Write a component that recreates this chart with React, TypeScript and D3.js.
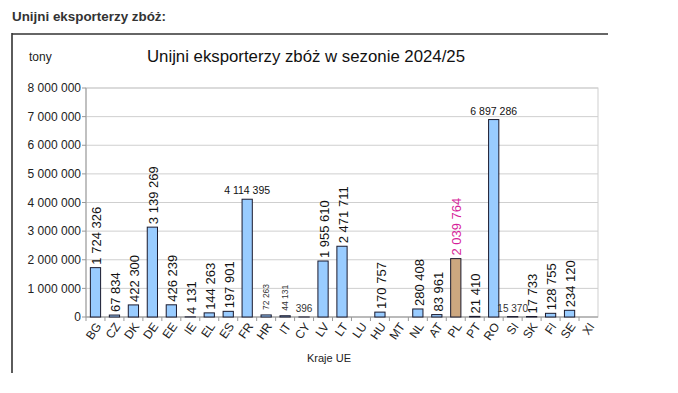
import React from "react";
import * as d3 from "d3";

const countries = ["BG","CZ","DK","DE","EE","IE","EL","ES","FR","HR","IT","CY","LV","LT","LU","HU","MT","NL","AT","PL","PT","RO","SI","SK","FI","SE","XI"];
const exportsT = [1724326,67834,422300,3139269,426239,4131,144263,197901,4114395,72263,44131,396,1955610,2471711,0,170757,0,280408,83961,2039764,21410,6897286,15370,17733,128755,234120,0];
// label style: v = vertical, h = horizontal, vs = vertical small, hs = horizontal small, n = none
const labelStyles = ["v","v","v","v","v","v","v","v","h","vs","vs","hs","v","v","n","v","n","v","v","v","v","h","hs","v","v","v","n"];
const yTicks = [0,1000000,2000000,3000000,4000000,5000000,6000000,7000000,8000000];

const fmt = (v: number) => String(v).replace(/\B(?=(\d{3})+(?!\d))/g, " ");

export default function App() {
  const W = 678, H = 393;
  const left = 86, right = 598, top = 88, bottom = 317;
  const x = d3.scaleBand<string>().domain(countries).range([left, right]).paddingInner(0.46).paddingOuter(0.23);
  const xStep = d3.scaleBand<string>().domain(countries).range([left, right]);
  const y = d3.scaleLinear().domain([0, 8000000]).range([bottom, top]);
  const font = "Liberation Sans, Arial, sans-serif";

  return (
    <svg width={W} height={H} style={{ position: "absolute", left: 0, top: 0, background: "#fff" }} fontFamily={font}>
      <rect x={0} y={0} width={W} height={H} fill="#fff" />
      <text x={12} y={21} fontSize={13.4} fontWeight="bold" fill="#333">Unijni eksporterzy zbóż:</text>
      <line x1={12} y1={34} x2={608} y2={34} stroke="#333" strokeWidth={1.6} />
      <line x1={12} y1={33} x2={12} y2={373} stroke="#333" strokeWidth={1.6} />
      <text x={29} y={61} fontSize={12} fill="#222">tony</text>
      <text x={306} y={62} fontSize={16.8} textAnchor="middle" fill="#111">Unijni eksporterzy zbóż w sezonie 2024/25</text>

      {/* plot frame & grid */}
      <rect x={left} y={top} width={right - left} height={bottom - top} fill="none" stroke="#cfcfcf" />
      {yTicks.map((t) => (
        <g key={t}>
          <line x1={left} x2={right} y1={y(t)} y2={y(t)} stroke="#cfcfcf" />
          <line x1={left - 4} x2={left} y1={y(t)} y2={y(t)} stroke="#999" />
          <text x={81} y={y(t)} dy="0.35em" fontSize={12} textAnchor="end" fill="#222">{fmt(t)}</text>
        </g>
      ))}
      <line x1={left} x2={left} y1={top} y2={bottom} stroke="#999" />
      <line x1={left} x2={right} y1={bottom} y2={bottom} stroke="#999" />
      {countries.map((c) => (
        <line key={"t" + c} x1={xStep(c)!} x2={xStep(c)!} y1={bottom} y2={bottom + 4} stroke="#999" />
      ))}

      {/* bars */}
      {countries.map((c, i) => {
        const v = exportsT[i];
        const isPL = c === "PL";
        return (
          <rect key={"b" + c} x={x(c)!} y={y(v)} width={x.bandwidth()} height={bottom - y(v)}
            fill={isPL ? "#CCA77F" : "#99CCFF"} stroke="#1a1a2e" strokeWidth={1} />
        );
      })}

      {/* value labels */}
      {countries.map((c, i) => {
        const v = exportsT[i];
        const s = labelStyles[i];
        const cx = x(c)! + x.bandwidth() / 2;
        const ty = y(v);
        const color = c === "PL" ? "#D61F9A" : "#111";
        if (s === "v") {
          return (
            <text key={"l" + c} transform={`translate(${cx + 1},${ty - 3}) rotate(-90)`} dy="0.36em" fontSize={13} fill={color}>{fmt(v)}</text>
          );
        }
        if (s === "vs") {
          return (
            <text key={"l" + c} transform={`translate(${cx},${ty - 5}) rotate(-90)`} dy="0.36em" fontSize={8.5} fill="#333">{fmt(v)}</text>
          );
        }
        if (s === "h") {
          return (
            <text key={"l" + c} x={cx} y={ty - 5} fontSize={10.5} textAnchor="middle" fill="#111">{fmt(v)}</text>
          );
        }
        if (s === "hs") {
          return (
            <text key={"l" + c} x={cx} y={ty - 5} fontSize={10} textAnchor="middle" fill="#333">{fmt(v)}</text>
          );
        }
        return null;
      })}

      {/* x labels */}
      {countries.map((c) => {
        const cx = x(c)! + x.bandwidth() / 2;
        return (
          <text key={"x" + c} transform={`translate(${cx + 3},${bottom + 7}) rotate(-55)`} dy="0.35em" fontSize={12} textAnchor="end" fill="#222">{c}</text>
        );
      })}
      <text x={329} y={362} fontSize={11} textAnchor="middle" fill="#222">Kraje UE</text>
    </svg>
  );
}
